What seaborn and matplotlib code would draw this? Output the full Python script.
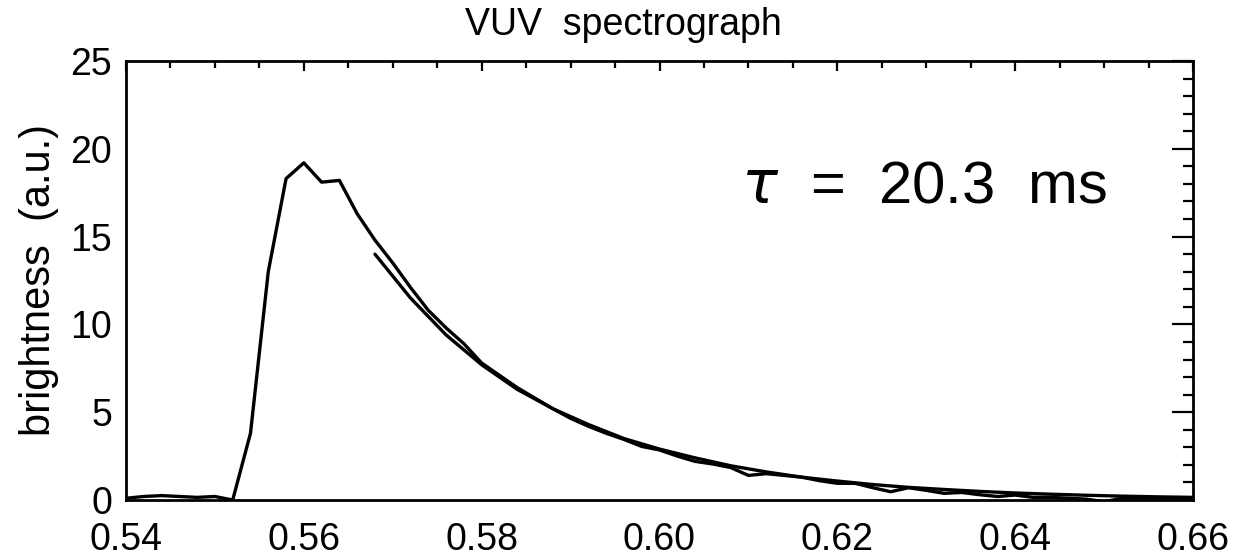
import numpy as np
import pandas as pd
import matplotlib
matplotlib.use('Agg')
import matplotlib.pyplot as plt
import seaborn as sns

# datos (tiempo en s, brillo en u.a.)
tiempo = [0.540, 0.542, 0.544, 0.546, 0.548, 0.550, 0.552, 0.554, 0.556, 0.558,
          0.560, 0.562, 0.564, 0.566, 0.568, 0.570, 0.572, 0.574, 0.576, 0.578,
          0.580, 0.582, 0.584, 0.586, 0.588, 0.590, 0.592, 0.594, 0.596, 0.598,
          0.600, 0.602, 0.604, 0.606, 0.608, 0.610, 0.612, 0.614, 0.616, 0.618,
          0.620, 0.622, 0.624, 0.626, 0.628, 0.630, 0.632, 0.634, 0.636, 0.638,
          0.640, 0.642, 0.644, 0.646, 0.648, 0.650, 0.652, 0.654, 0.656, 0.658,
          0.660]
brillo = [0.10, 0.20, 0.25, 0.20, 0.15, 0.20, 0.00, 3.80, 13.0, 18.3,
          19.2, 18.1, 18.2, 16.3, 14.8, 13.5, 12.1, 10.8, 9.8, 8.9,
          7.8, 7.1, 6.4, 5.8, 5.2, 4.65, 4.2, 3.8, 3.45, 3.05,
          2.85, 2.5, 2.2, 2.05, 1.85, 1.4, 1.5, 1.4, 1.3, 1.1,
          0.95, 0.95, 0.70, 0.47, 0.70, 0.55, 0.38, 0.43, 0.30, 0.20,
          0.28, 0.15, 0.15, 0.10, 0.05, -0.10, 0.10, 0.10, 0.10, 0.05,
          0.00]

# ajuste exponencial
tiempo_ajuste = [0.568, 0.572, 0.576, 0.580, 0.584, 0.588, 0.592, 0.596, 0.600,
                 0.604, 0.608, 0.612, 0.616, 0.620, 0.624, 0.628, 0.632, 0.636,
                 0.640, 0.644, 0.648, 0.652, 0.656, 0.660]
brillo_ajuste = [14.0, 11.5, 9.4, 7.7, 6.3, 5.2, 4.3, 3.5, 2.9,
                 2.4, 1.95, 1.6, 1.3, 1.08, 0.88, 0.72, 0.60, 0.49,
                 0.40, 0.33, 0.27, 0.22, 0.18, 0.15]

df = pd.DataFrame({'t': tiempo, 'b': brillo})
df_fit = pd.DataFrame({'t': tiempo_ajuste, 'b': brillo_ajuste})

sns.set_style('white')
plt.rcParams['font.family'] = ['Liberation Sans', 'DejaVu Sans']
plt.rcParams['text.color'] = 'black'
plt.rcParams['axes.labelcolor'] = 'black'

fig = plt.figure(figsize=(12.46, 5.6), dpi=100)
ax = fig.add_axes([126/1246, 1 - 500/560, (1193-126)/1246, (500-61)/560])

sns.lineplot(data=df, x='t', y='b', ax=ax, color='black', lw=2.4)
sns.lineplot(data=df_fit, x='t', y='b', ax=ax, color='black', lw=2.4)

ax.set_xlim(0.54, 0.66)
ax.set_ylim(0, 25)
ax.set_xticks([0.54, 0.56, 0.58, 0.60, 0.62, 0.64, 0.66])
ax.set_xticklabels(['0.54', '0.56', '0.58', '0.60', '0.62', '0.64', '0.66'])
ax.set_yticks([0, 5, 10, 15, 20, 25])
ax.xaxis.set_minor_locator(matplotlib.ticker.MultipleLocator(0.005))
ax.yaxis.set_minor_locator(matplotlib.ticker.MultipleLocator(1))

ax.tick_params(axis='both', which='both', direction='in', top=True, right=True,
               colors='black', labelcolor='black', labelsize=27, width=1.6)
ax.tick_params(axis='x', which='major', length=7.5, pad=16)
ax.tick_params(axis='x', which='minor', length=5)
ax.tick_params(axis='y', which='major', length=15, pad=10)
ax.tick_params(axis='y', which='minor', length=7.5)
for s in ax.spines.values():
    s.set_linewidth(2)
    s.set_color('black')

ax.set_xlabel('')
ax.set_ylabel('brightness  (a.u.)', fontsize=30, labelpad=8)

ax.text(0.6092, 17.8, r'$\tau$  =  20.3  ms', fontsize=43, ha='left', va='center')
fig.text(0.5, 0.955, 'VUV  spectrograph', fontsize=27, ha='center', va='center')

fig.savefig('out.png', dpi=100)
